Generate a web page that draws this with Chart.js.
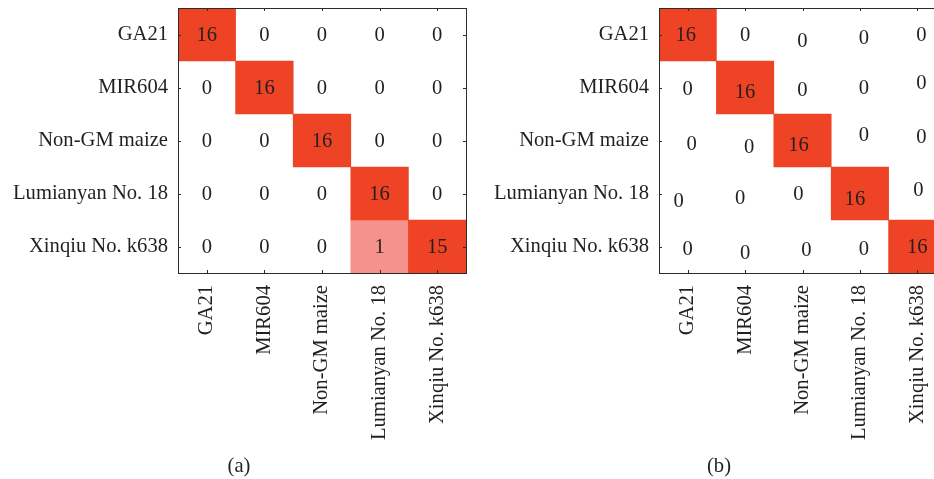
<!DOCTYPE html>
<html>
<head>
<meta charset="utf-8">
<script src="https://cdn.jsdelivr.net/npm/chart.js@4/dist/chart.umd.min.js"></script>
<style>
  html, body { margin: 0; padding: 0; background: #fff; overflow: hidden; width: 934px; height: 479px; }
  canvas { position: absolute; top: 0; }
  #chartA { left: 0; }
  #chartB { left: 480px; }
  .caption { position: absolute; top: 454px; font: 20.6px "Liberation Serif", "Times New Roman", serif; color: #231f20; transform: translateX(-50%); }
</style>
</head>
<body>
<canvas id="chartA" width="470" height="479"></canvas>
<canvas id="chartB" width="480" height="479"></canvas>
<div class="caption" style="left:239px">(a)</div>
<div class="caption" style="left:719px">(b)</div>
<script>
// Class names (rows = actual class, columns = predicted class)
const categories = ['GA21', 'MIR604', 'Non-GM maize', 'Lumianyan No. 18', 'Xinqiu No. k638'];

// Confusion-matrix counts for the two classifiers
const countsA = [
  [16, 0, 0, 0, 0],
  [0, 16, 0, 0, 0],
  [0, 0, 16, 0, 0],
  [0, 0, 0, 16, 0],
  [0, 0, 0, 1, 15]
];
const countsB = [
  [16, 0, 0, 0, 0],
  [0, 16, 0, 0, 0],
  [0, 0, 16, 0, 0],
  [0, 0, 0, 16, 0],
  [0, 0, 0, 0, 16]
];

// Small per-cell text nudges (px) used for the second panel's labels
const nudgeB = [
  [[-2, 0], [0, 0], [0, 6], [4, 3], [4, 0]],
  [[0, 1], [0, 4], [0, 2], [4, 0], [4, -5]],
  [[4, 3], [4, 6], [-4, 4], [4, -6], [4, -4]],
  [[-9, 7], [-5, 4], [-4, 0], [-5, 5], [1, -4]],
  [[0, 2], [0, 6], [4, 3], [4, 2], [0, 0]]
];

const FONT = '"Liberation Serif", "Times New Roman", serif';
const FONT_SIZE = 20.6;
const TEXT = '#231f20';
const RED = '#ee4325';
const PINK = '#f4928b';

function cellColor(v) {
  if (v <= 0) return 'rgba(255,255,255,0)';
  if (v < 8) return PINK;
  return RED;
}

// Draws cell counts, the surrounding box and inward tick marks
const matrixDecor = {
  id: 'matrixDecor',
  afterDatasetsDraw(chart, args, opts) {
    const { ctx, chartArea: a, scales: { x, y } } = chart;
    const counts = opts.counts;
    const nudge = opts.nudge;
    ctx.save();
    ctx.font = FONT_SIZE + 'px ' + FONT;
    ctx.fillStyle = TEXT;
    ctx.textAlign = 'center';
    ctx.textBaseline = 'middle';
    counts.forEach((row, r) => {
      row.forEach((v, c) => {
        const d = nudge ? nudge[r][c] : [0, 0];
        ctx.fillText(String(v), x.getPixelForValue(c) + d[0], y.getPixelForValue(r) + d[1] + 1);
      });
    });
    ctx.strokeStyle = '#2b2b2b';
    ctx.lineWidth = 1;
    ctx.strokeRect(Math.round(a.left) + 0.5, Math.round(a.top) + 0.5,
      Math.round(a.right - a.left), Math.round(a.bottom - a.top));
    const L = 3;
    ctx.beginPath();
    categories.forEach((_, i) => {
      const px = Math.round(x.getPixelForValue(i)) + 0.5;
      const py = Math.round(y.getPixelForValue(i)) + 0.5;
      ctx.moveTo(px, a.top); ctx.lineTo(px, a.top + L);
      ctx.moveTo(px, a.bottom); ctx.lineTo(px, a.bottom - L);
      ctx.moveTo(a.left, py); ctx.lineTo(a.left + L, py);
      ctx.moveTo(a.right, py); ctx.lineTo(a.right - L, py);
    });
    ctx.stroke();
    ctx.restore();
  }
};

function buildMatrix(canvasId, counts, nudge, yAxisWidth, padRight) {
  const datasets = counts.map((row, r) => ({
    label: categories[r],
    data: row.map(() => [r - 0.5, r + 0.5]),
    backgroundColor: row.map(cellColor),
    borderWidth: 0,
    barPercentage: 1,
    categoryPercentage: 1,
    grouped: false
  }));
  return new Chart(document.getElementById(canvasId), {
    type: 'bar',
    data: { labels: categories, datasets },
    options: {
      responsive: false,
      animation: false,
      events: [],
      layout: { padding: { top: 8, right: padRight, bottom: 0, left: 0 } },
      plugins: {
        legend: { display: false },
        tooltip: { enabled: false },
        matrixDecor: { counts, nudge }
      },
      scales: {
        x: {
          type: 'category',
          offset: true,
          grid: { display: false, drawTicks: false },
          border: { display: false },
          ticks: {
            autoSkip: false,
            minRotation: 90,
            maxRotation: 90,
            padding: 12,
            color: TEXT,
            font: { family: FONT, size: FONT_SIZE }
          },
          afterFit(s) {
            s.height = 479 - 273;
            s.paddingLeft = 0; s.paddingRight = 0;
          }
        },
        y: {
          type: 'linear',
          reverse: true,
          min: -0.5,
          max: 4.5,
          grid: { display: false, drawTicks: false },
          border: { display: false },
          afterBuildTicks(s) { s.ticks = categories.map((_, i) => ({ value: i })); },
          ticks: {
            padding: 10,
            color: TEXT,
            font: { family: FONT, size: FONT_SIZE },
            callback: (v) => categories[v]
          },
          afterFit(s) {
            s.width = yAxisWidth;
            s.paddingTop = 0; s.paddingBottom = 0;
          }
        }
      }
    },
    plugins: [matrixDecor]
  });
}

buildMatrix('chartA', countsA, null, 178, 4);
buildMatrix('chartB', countsB, nudgeB, 179, 14);
</script>
</body>
</html>
